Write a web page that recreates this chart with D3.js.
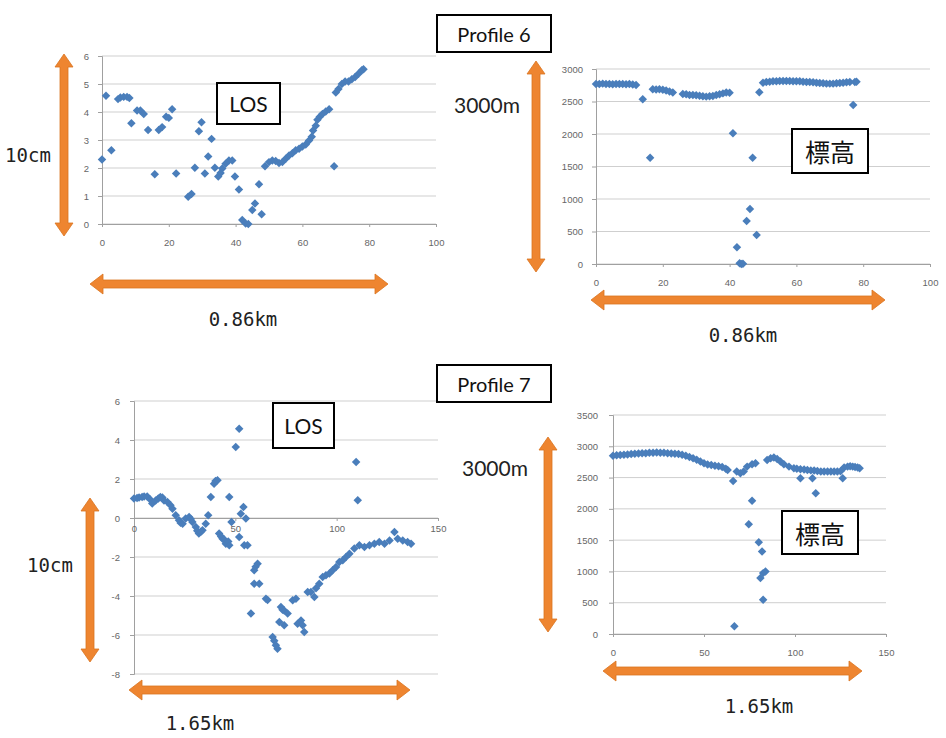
<!DOCTYPE html>
<html>
<head>
<meta charset="utf-8">
<script src="https://cdn.jsdelivr.net/npm/d3@7"></script>
<style>
  html, body { margin: 0; padding: 0; background: #fff; }
  svg { display: block; }
</style>
</head>
<body>
<svg id="chart" width="946" height="738"></svg>
<script>
// ---- Profile 6: LOS displacement (cm) along the profile ----
const profile6Los = [
  [0,2.30],[1.2,4.58],[2.8,2.63],[4.8,4.46],[5.5,4.52],[6.5,4.54],[7.5,4.54],[8.2,4.50],
  [8.8,3.60],[10.5,4.05],[11.5,4.05],[12.5,3.93],[13.8,3.36],[15.8,1.78],[17,3.36],[18,3.46],
  [19.2,3.83],[20,3.79],[21,4.10],[22.2,1.80],[25.8,0.97],[26.8,1.07],[27.8,2.01],[29,3.31],
  [29.8,3.63],[30.8,1.80],[31.8,2.41],[32.8,3.04],[33.8,2.01],[34.8,1.70],[35.5,1.82],[36,1.98],
  [37,2.15],[38,2.27],[39,2.27],[39.8,1.70],[41,1.23],[42,0.14],[43,0.02],[43.8,0.00],
  [45,0.50],[45.8,0.73],[47,1.42],[47.8,0.35],[48.8,2.06],[50,2.21],[51,2.27],[52,2.25],
  [53,2.18],[54,2.21],[55,2.33],[56,2.45],[57,2.53],[58,2.63],[59,2.69],[60,2.77],
  [61,2.84],[62,2.98],[62.8,3.12],[63.2,3.34],[64,3.51],[64.5,3.72],[65.2,3.83],[66,3.93],
  [67,4.02],[68,4.10],[69.5,2.06],[70,4.70],[70.8,4.82],[71.8,5.00],[72.8,5.09],[73.8,5.09],
  [74.8,5.17],[75.8,5.25],[76.8,5.37],[77.8,5.49],[78.3,5.53]
];

// ---- Profile 6: elevation (m) ----
const profile6Elev = [
  [0,2770],[1,2770],[2,2775],[3,2770],[4,2770],[5,2765],[6,2770],[7,2770],[8,2770],[9,2765],
  [10,2770],[11,2760],[12,2755],[14,2533],[16.2,1636],[17,2690],[18,2685],[19,2690],[20,2680],
  [21,2670],[22,2655],[23,2640],[26,2615],[27,2610],[28,2600],[29,2600],[30,2595],[31,2590],
  [32,2580],[33,2575],[34,2580],[35,2585],[36,2600],[37,2610],[38,2625],[39,2640],[40,2635],
  [41,2010],[42.2,256],[43,10],[43.5,0],[44,5],[45.1,662],[46.1,846],[46.9,1636],[48.1,446],
  [48.9,2641],[50,2790],[51,2800],[52,2805],[53,2810],[54,2810],[55,2815],[56,2815],[57,2815],
  [58,2815],[59,2810],[60,2810],[61,2810],[62,2805],[63,2800],[64,2800],[65,2795],[66,2790],
  [67,2785],[68,2780],[69,2775],[70,2775],[71,2775],[72,2780],[73,2785],[74,2790],[75,2795],
  [76,2800],[77,2446],[77.5,2800],[78,2805]
];

// ---- Profile 7: LOS displacement (cm) ----
const profile7Los = [
  [0,1.00],[1.5,1.03],[2.5,1.05],[4,1.08],[5,1.10],[6.5,1.10],[8,0.95],[9,0.74],[10.7,0.90],
  [12,1.00],[13,1.08],[14,1.05],[14.8,0.90],[16.5,0.82],[18,0.65],[19,0.48],[20.6,0.14],
  [22.2,-0.12],[23,-0.25],[24,-0.29],[25.5,-0.03],[27.2,0.05],[28,-0.05],[28.8,-0.20],
  [30.5,-0.46],[31.2,-0.65],[32,-0.80],[33,-0.70],[33.8,-0.63],[35.4,-0.29],[36.6,0.14],
  [37.9,1.08],[39.5,1.76],[40.2,1.90],[41.2,1.93],[42,-0.80],[43,-0.95],[43.7,-1.06],
  [44.5,-1.10],[45.3,-1.32],[46.5,-1.20],[47,-1.40],[47,1.08],[48.1,-0.20],[50.2,3.64],
  [51.9,4.58],[51.9,-0.97],[52.7,0.22],[54,0.56],[55.2,-0.03],[54.4,-1.40],[56,-1.40],
  [57.7,-4.90],[59.3,-2.68],[60,-2.50],[61,-2.34],[59.3,-3.37],[61.8,-3.37],[65.1,-4.14],
  [65.9,-4.20],[68.4,-6.10],[69.2,-6.30],[70,-6.53],[70.8,-6.70],[71.7,-5.33],[74.1,-5.50],
  [72.5,-4.57],[73.3,-4.70],[74.1,-4.74],[75.8,-4.90],[78.3,-4.22],[79.9,-4.14],[80.7,-5.42],
  [82.4,-5.25],[83.2,-5.50],[84,-5.85],[85.7,-3.80],[87.3,-3.80],[89,-4.05],[89.8,-3.60],
  [91.4,-3.37],[93.1,-3.03],[94.7,-2.94],[96.4,-2.85],[98,-2.68],[99.7,-2.51],[101.3,-2.26],
  [103,-2.17],[104.6,-2.00],[106.3,-1.83],[108.7,-1.57],[109.6,2.87],[110.4,0.91],[111.2,-1.40],
  [113.7,-1.49],[116.2,-1.40],[118.6,-1.32],[121,-1.23],[123.6,-1.32],[126.1,-1.15],
  [128.5,-0.72],[130.1,-1.06],[132.6,-1.15],[135,-1.23],[136.7,-1.32]
];

// ---- Profile 7: elevation (m) ----
const profile7Elev = [
  [0,2850],[2,2855],[4,2860],[6,2865],[8,2870],[10,2875],[12,2880],[14,2885],[16,2888],
  [18,2890],[20,2895],[22,2898],[24,2900],[26,2898],[28,2895],[30,2890],[32,2885],[34,2880],
  [36,2875],[38,2865],[40,2850],[42,2830],[44,2810],[46,2785],[48,2755],[50,2730],[52,2710],
  [54,2700],[56,2690],[58,2680],[60,2670],[62,2640],[63,2622],[66,2447],[66.7,122],[68,2596],
  [70,2569],[71.8,2596],[73.7,2675],[74.6,1755],[76.4,2128],[76.4,2713],[78.3,2729],
  [80.1,1468],[81,894],[81.9,1319],[82.5,973],[82.5,548],[83.8,1000],[84.7,2782],[86.6,2808],
  [88.4,2819],[90.2,2798],[92,2755],[93.9,2713],[96.7,2675],[99.4,2649],[101,2640],[103,2633],
  [103,2489],[105,2628],[106.8,2622],[108.7,2615],[109.6,2489],[110.5,2612],[111.4,2250],
  [112.3,2605],[114.2,2596],[116,2596],[117.9,2596],[119.7,2596],[121.5,2596],[123.3,2598],
  [125,2600],[126.2,2489],[127,2660],[128.9,2675],[130.3,2680],[131.7,2675],[133,2670],
  [134.4,2660],[135.5,2650]
];

// ---- tick values ----
const ticks6X = [0, 20, 40, 60, 80, 100];
const ticks6LosY = [0, 1, 2, 3, 4, 5, 6];
const ticks6ElevY = [0, 500, 1000, 1500, 2000, 2500, 3000];
const ticks7X = [0, 50, 100, 150];
const ticks7LosY = [-8, -6, -4, -2, 0, 2, 4, 6];
const ticks7ElevY = [0, 500, 1000, 1500, 2000, 2500, 3000, 3500];

const svg = d3.select("#chart");
const MARK = "#4A7EBB";
const ORANGE = "#EE8530";
const TICK_FONT = "'Liberation Sans', Arial, sans-serif";
const plain = d => String(d);

function drawPanel(opt) {
  const x = d3.scaleLinear().domain(opt.xDomain).range(opt.xRange);
  const y = d3.scaleLinear().domain(opt.yDomain).range(opt.yRange);
  const g = svg.append("g");

  // horizontal gridlines
  g.append("g").selectAll("line").data(opt.yTicks).join("line")
    .attr("x1", opt.xRange[0]).attr("x2", opt.xRange[1])
    .attr("y1", d => y(d)).attr("y2", d => y(d))
    .attr("stroke", "#CFCFCF").attr("stroke-width", 1);

  // y axis
  const yAxis = g.append("g")
    .attr("transform", `translate(${opt.xRange[0]},0)`)
    .call(d3.axisLeft(y).tickValues(opt.yTicks).tickFormat(plain).tickSize(4).tickPadding(opt.yPad));
  yAxis.select(".domain").attr("stroke", "#A0A0A0");
  yAxis.selectAll(".tick line").attr("stroke", "#A0A0A0");
  yAxis.selectAll("text").attr("fill", "#666")
    .style("font-family", TICK_FONT).style("font-size", "9.5px");

  // x axis sits on the zero line
  const xAxis = g.append("g")
    .attr("transform", `translate(0,${y(0)})`)
    .call(d3.axisBottom(x).tickValues(opt.xTicks).tickFormat(plain).tickSize(3).tickPadding(opt.xPad));
  xAxis.select(".domain").attr("stroke", "#A0A0A0");
  xAxis.selectAll(".tick line").attr("stroke", "#A0A0A0");
  xAxis.selectAll("text").attr("fill", "#666")
    .style("font-family", TICK_FONT).style("font-size", "9.5px");

  // diamond markers
  const diamond = d3.symbol().type(d3.symbolSquare).size(36);
  g.append("g").selectAll("path").data(opt.data).join("path")
    .attr("d", diamond)
    .attr("transform", d => `translate(${x(d[0])},${y(d[1])}) rotate(45)`)
    .attr("fill", MARK);
}

function hArrow(x1, x2, yc) {
  const t = 4, h = 10, L = 13;
  const pts = [
    [x1, yc], [x1 + L, yc - h], [x1 + L, yc - t], [x2 - L, yc - t], [x2 - L, yc - h],
    [x2, yc], [x2 - L, yc + h], [x2 - L, yc + t], [x1 + L, yc + t], [x1 + L, yc + h]
  ];
  svg.append("polygon").attr("points", pts.map(p => p.join(",")).join(" "))
    .attr("fill", ORANGE).attr("stroke", "#D9731F").attr("stroke-width", 0.8);
}

function vArrow(xc, y1, y2) {
  const t = 4, h = 9, L = 13;
  const pts = [
    [xc, y1], [xc + h, y1 + L], [xc + t, y1 + L], [xc + t, y2 - L], [xc + h, y2 - L],
    [xc, y2], [xc - h, y2 - L], [xc - t, y2 - L], [xc - t, y1 + L], [xc - h, y1 + L]
  ];
  svg.append("polygon").attr("points", pts.map(p => p.join(",")).join(" "))
    .attr("fill", ORANGE).attr("stroke", "#D9731F").attr("stroke-width", 0.8);
}

function boxLabel(x0, y0, w, h, text, size, family) {
  svg.append("rect").attr("x", x0).attr("y", y0).attr("width", w).attr("height", h)
    .attr("fill", "#fff").attr("stroke", "#000").attr("stroke-width", 2);
  svg.append("text").attr("x", x0 + w / 2).attr("y", y0 + h / 2)
    .attr("text-anchor", "middle").attr("dominant-baseline", "central")
    .style("font-family", family).style("font-size", size + "px").attr("fill", "#111")
    .text(text);
}

function label(xc, yc, text, size, family, anchor) {
  svg.append("text").attr("x", xc).attr("y", yc)
    .attr("text-anchor", anchor || "middle").attr("dominant-baseline", "central")
    .style("font-family", family).style("font-size", size + "px").attr("fill", "#222")
    .text(text);
}

const SANS = "Lato, 'Open Sans', sans-serif";
const MONO = "'DejaVu Sans Mono', 'Liberation Mono', monospace";
const CJK = "'Noto Sans CJK JP', sans-serif";

// Profile 6 panels
drawPanel({ data: profile6Los, xDomain: [0, 100], xRange: [102, 436], yDomain: [0, 6], yRange: [224, 56],
  xTicks: ticks6X, yTicks: ticks6LosY, xPad: 12, yPad: 9 });
drawPanel({ data: profile6Elev, xDomain: [0, 100], xRange: [596, 930], yDomain: [0, 3000], yRange: [264, 69],
  xTicks: ticks6X, yTicks: ticks6ElevY, xPad: 12, yPad: 9 });

// Profile 7 panels
drawPanel({ data: profile7Los, xDomain: [0, 150], xRange: [134, 438], yDomain: [-8, 6], yRange: [674, 401],
  xTicks: ticks7X, yTicks: ticks7LosY, xPad: 4, yPad: 10 });
drawPanel({ data: profile7Elev, xDomain: [0, 150], xRange: [613, 886], yDomain: [0, 3500], yRange: [634, 415],
  xTicks: ticks7X, yTicks: ticks7ElevY, xPad: 12, yPad: 11 });

// scale arrows
vArrow(64, 54, 236);
hArrow(90, 388, 284);
vArrow(536, 61, 272);
hArrow(591, 885, 300);
vArrow(90, 498, 662);
hArrow(129, 410, 690);
vArrow(548, 437, 632);
hArrow(603, 862, 671);

// scale annotations
label(28, 155, "10cm", 19, MONO);
label(243, 319, "0.86km", 19, MONO);
label(487, 104, "3000m", 21, SANS);
label(743, 335, "0.86km", 19, MONO);
label(50, 565, "10cm", 19, MONO);
label(200, 723, "1.65km", 19, MONO);
label(495, 467, "3000m", 21, SANS);
label(759, 706, "1.65km", 19, MONO);

// title and series boxes
boxLabel(437, 15, 114, 37, "Profile 6", 20, SANS);
boxLabel(437, 365, 114, 37, "Profile 7", 20, SANS);
boxLabel(217, 83, 63, 41, "LOS", 21, SANS);
boxLabel(273, 403, 61, 45, "LOS", 21, SANS);
boxLabel(792, 129, 76, 44, "標高", 25, CJK);
boxLabel(782, 511, 76, 43, "標高", 25, CJK);
</script>
</body>
</html>
